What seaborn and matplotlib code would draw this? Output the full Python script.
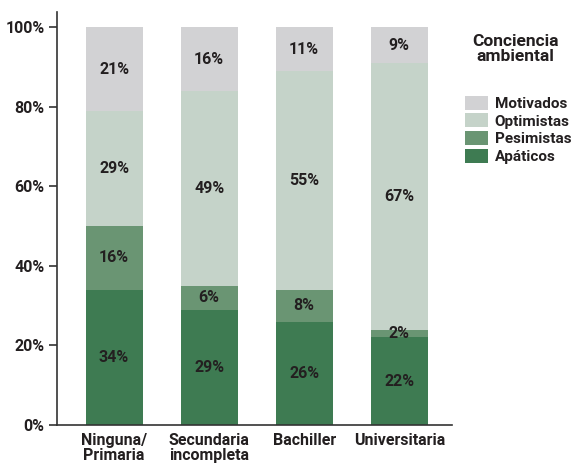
import matplotlib
matplotlib.use("Agg")
import matplotlib.pyplot as plt
import seaborn as sns
import numpy as np
from matplotlib.patches import Patch

categories = ["Ninguna/\nPrimaria", "Secundaria\nincompleta", "Bachiller", "Universitaria"]
series_names = ["Apáticos", "Pesimistas", "Optimistas", "Motivados"]
apaticos = [34, 29, 26, 22]
pesimistas = [16, 6, 8, 2]
optimistas = [29, 49, 55, 67]
motivados = [21, 16, 11, 9]
y_ticks = [0, 20, 40, 60, 80, 100]
y_ticklabels = ["0%", "20%", "40%", "60%", "80%", "100%"]

colors = ["#3e7b52", "#6a9573", "#c5d3c9", "#d2d2d4"]
text_color = "#231f20"

sns.set_theme(style="white")
plt.rcParams["font.family"] = ["Roboto", "DejaVu Sans"]
plt.rcParams["font.weight"] = "bold"

fig = plt.figure(figsize=(5.76, 4.67), dpi=100)
ax = fig.add_axes([0.099, 0.09, 0.685, 0.884])

series = [apaticos, pesimistas, optimistas, motivados]
bottom = np.zeros(len(categories))
for name, vals, col in zip(series_names, series, colors):
    sns.barplot(x=categories, y=vals, bottom=bottom, color=col, saturation=1,
                width=0.6, ax=ax, linewidth=0, order=categories)
    for i, v in enumerate(vals):
        ax.text(i, bottom[i] + v / 2, f"{v}%", ha="center", va="center",
                fontsize=11.5, fontweight="bold", color=text_color)
    bottom = bottom + np.array(vals)

if ax.get_legend() is not None:
    ax.get_legend().remove()

ax.set_ylim(0, 103.8)
ax.set_xlim(-0.6, 3.55)
ax.set_yticks(y_ticks)
ax.set_yticklabels(y_ticklabels, fontsize=11.5, fontweight="bold", color=text_color)
ax.set_xticks(range(len(categories)))
ax.set_xticklabels(categories, fontsize=11.5, fontweight="bold", color=text_color, linespacing=0.95)
ax.tick_params(axis="y", length=6, width=1.2, color="#333333", left=True, pad=3)
ax.tick_params(axis="x", length=0, pad=6)
for s in ["top", "right"]:
    ax.spines[s].set_visible(False)
for s in ["left", "bottom"]:
    ax.spines[s].set_color("#333333")
    ax.spines[s].set_linewidth(1.2)
ax.set_xlabel("")
ax.set_ylabel("")

handles = [Patch(facecolor=c, edgecolor="none") for c in colors[::-1]]
labels = series_names[::-1]
leg = fig.legend(handles, labels, loc="upper left", bbox_to_anchor=(0.807, 0.795),
                 frameon=False, fontsize=11, handlelength=1.5, handleheight=1.05,
                 handletextpad=0.45, labelspacing=0.15, borderaxespad=0, borderpad=0)
for t in leg.get_texts():
    t.set_fontweight("bold")
    t.set_color(text_color)
fig.text(0.895, 0.895, "Conciencia\nambiental", ha="center", va="center",
         fontsize=12.5, fontweight="bold", color=text_color, linespacing=1.05)

fig.savefig("out.png", dpi=100)
